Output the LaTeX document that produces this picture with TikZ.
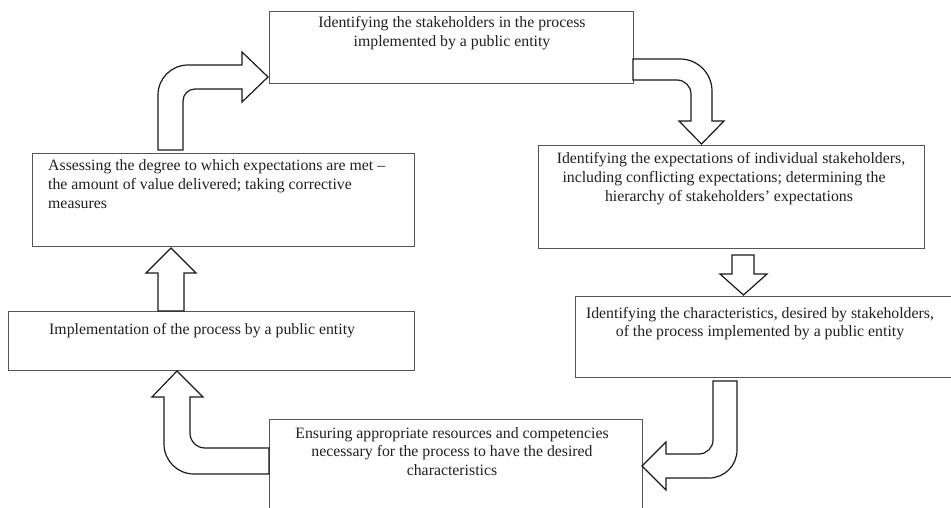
\documentclass[tikz,border=0pt]{standalone}
\usepackage{fontspec}
\setmainfont{Liberation Serif}
\definecolor{boxline}{HTML}{555555}
\definecolor{arrline}{HTML}{1A1A1A}
\definecolor{txtcol}{HTML}{231F20}
\begin{document}
\begin{tikzpicture}[x=1pt,y=-1pt,
  box/.style={draw=boxline, line width=0.9pt, anchor=north west, inner sep=0pt, outer sep=0pt},
  blockarrow/.style={draw=arrline, line width=1.2pt, fill=white, line join=miter},
  txt/.style={text=txtcol, font=\fontsize{15.8}{18.5}\selectfont, inner sep=0pt, anchor=base},
  ltxt/.style={txt, anchor=base west}]
\clip (0,0) rectangle (951,508);
\fill[white] (0,0) rectangle (951,508);
% boxes
\node[box, minimum width=364pt, minimum height=72pt] (top) at (269,11) {};
\node[box, minimum width=386pt, minimum height=103pt] (rb1) at (538,145) {};
\node[box, minimum width=385pt, minimum height=81pt] (rb2) at (575,296) {};
\node[box, minimum width=373pt, minimum height=100pt] (bot) at (269,419) {};
\node[box, minimum width=382pt, minimum height=93pt] (asm) at (32,153) {};
\node[box, minimum width=406pt, minimum height=59pt] (imp) at (8,311) {};
% texts
\node[txt] (t1a) at (452,28) {Identifying the stakeholders in the process};
\node[txt] (t1b) at (452,46.5) {implemented by a public entity};
\node[txt] (t2a) at (731,164) {Identifying the expectations of individual stakeholders,};
\node[txt] (t2b) at (724,182.5) {including conflicting expectations; determining the};
\node[txt] (t2c) at (729,201) {hierarchy of stakeholders’ expectations};
\node[txt] (t3a) at (760,318) {Identifying the characteristics, desired by stakeholders,};
\node[txt] (t3b) at (760,336.5) {of the process implemented by a public entity};
\node[txt] (t4a) at (452,438) {Ensuring appropriate resources and competencies};
\node[txt] (t4b) at (452,456.5) {necessary for the process to have the desired};
\node[txt] (t4c) at (452,475) {characteristics};
\node[ltxt] (t5a) at (48,171) {Assessing the degree to which expectations are met –};
\node[ltxt] (t5b) at (48,189.5) {the amount of value delivered; taking corrective};
\node[ltxt] (t5c) at (48,208) {measures};
\node[ltxt] (t6a) at (49,334) {Implementation of the process by a public entity};
% block arrows
% assessing -> top (up then right)
\draw[blockarrow] (158,150) -- (158,95) .. controls (158,78.4) and (171.4,65) .. (188,65)
  -- (242,65) -- (242,52) -- (268,77) -- (242,102) -- (242,89) -- (195,89)
  .. controls (188.4,89) and (183,94.4) .. (183,101) -- (183,150) -- cycle;
% top -> rb1 (right then down)
\draw[blockarrow] (633,59) -- (680,59) .. controls (697.7,59) and (712,73.3) .. (712,91)
  -- (712,121) -- (724,121) -- (701.5,144) -- (679,121) -- (691,121) -- (691,94)
  .. controls (691,86.3) and (684.7,80) .. (677,80) -- (633,80) -- cycle;
% rb1 -> rb2 (down)
\draw[blockarrow] (732,255) -- (754,255) -- (754,274) -- (767,274) -- (743.5,295)
  -- (720,274) -- (732,274) -- cycle;
% rb2 -> bottom (down then left)
\draw[blockarrow] (713,381) -- (737,381) -- (737,450) .. controls (737,465.5) and (724.5,478) .. (709,478)
  -- (666,478) -- (666,490) -- (642,466) -- (666,442) -- (666,454) -- (699,454)
  .. controls (706.7,454) and (713,447.7) .. (713,440) -- cycle;
% bottom -> imp (left then up)
\draw[blockarrow] (269,448) -- (205,448) .. controls (196.7,448) and (190,441.3) .. (190,433)
  -- (190,397) -- (203,397) -- (177,371) -- (152,397) -- (164,397) -- (164,444)
  .. controls (164,460.6) and (177.4,474) .. (194,474) -- (269,474) -- cycle;
% imp -> assessing (up)
\draw[blockarrow] (158,311) -- (158,273) -- (146,273) -- (171,248) -- (196,273)
  -- (184,273) -- (184,311) -- cycle;
\end{tikzpicture}
\end{document}
